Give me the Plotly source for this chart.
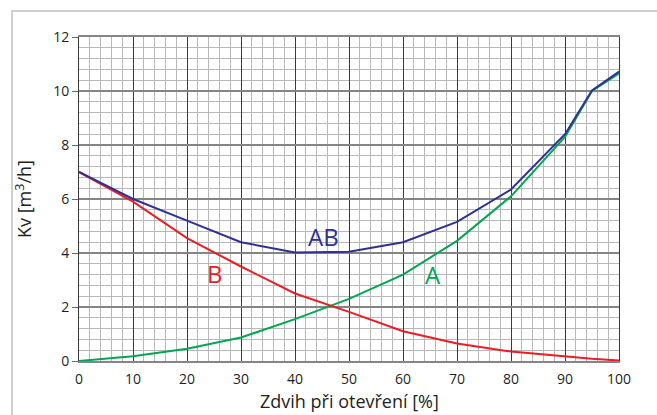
import plotly.graph_objects as go

# Valve stroke (% open) and flow coefficient Kv for each port
stroke = [0, 10, 20, 30, 40, 50, 60, 70, 80, 90, 95, 100]
kv_a = [0.0, 0.18, 0.45, 0.87, 1.55, 2.3, 3.2, 4.45, 6.1, 8.3, 10.0, 10.65]
kv_b = [7.0, 5.9, 4.55, 3.5, 2.5, 1.82, 1.1, 0.65, 0.35, 0.16, 0.08, 0.02]
kv_ab = [7.0, 6.0, 5.2, 4.4, 4.02, 4.05, 4.4, 5.15, 6.35, 8.4, 10.02, 10.72]

series = [
    ("A", kv_a, "#00A651"),
    ("B", kv_b, "#ED1C24"),
    ("AB", kv_ab, "#2E3192"),
]

# Curve labels: (text, x, y)
curve_labels = [("AB", 45.3, 4.6, "#2E3192"), ("B", 25.2, 3.25, "#ED1C24"), ("A", 65.5, 3.19, "#00A651")]

x_title = "Zdvih při otevření [%]"
y_title = "Kv [m<sup>3</sup>/h]"

FONT = "Open Sans"
TEXT = "#231F20"

fig = go.Figure()
for name, vals, color in series:
    fig.add_trace(go.Scatter(x=stroke, y=vals, mode="lines", name=name,
                             line=dict(color=color, width=2), showlegend=False))

for text, x, y, color in curve_labels:
    fig.add_annotation(x=x, y=y, xref="x", yref="y", text=text, showarrow=False,
                       font=dict(family=FONT, size=24, color=color))

# x-axis title placed just under the tick labels
fig.add_annotation(x=0.5, y=-0.122, xref="paper", yref="paper", text=x_title,
                   showarrow=False, xanchor="center", yanchor="middle",
                   font=dict(family=FONT, size=18, color=TEXT))

# light frame around the whole graphic
fig.add_shape(type="rect", xref="paper", yref="paper",
              x0=-0.124, x1=1.2, y0=-0.3, y1=1.08,
              line=dict(color="#cfcfcf", width=2), layer="below")

fig.update_xaxes(
    range=[0, 100], dtick=10, tick0=0,
    showgrid=True, gridcolor="#3a3a3a", gridwidth=1,
    minor=dict(dtick=2, showgrid=True, gridcolor="#b8b8b8", gridwidth=1),
    showline=True, linecolor="#858585", linewidth=1.5, mirror=True,
    zeroline=False, ticks="", ticklabelstandoff=4,
    tickfont=dict(family=FONT, size=14, color=TEXT),
)
fig.update_yaxes(
    range=[0, 12], dtick=2, tick0=0,
    showgrid=True, gridcolor="#858585", gridwidth=1.5,
    minor=dict(dtick=0.4, showgrid=True, gridcolor="#b8b8b8", gridwidth=1),
    showline=True, linecolor="#3a3a3a", linewidth=1, mirror=True,
    zeroline=False, ticks="outside", ticklen=6, tickcolor="#6a6a6a", tickwidth=1,
    tickfont=dict(family=FONT, size=14, color=TEXT),
    title=dict(text=y_title, standoff=16,
               font=dict(family=FONT, size=18, color=TEXT)),
)

fig.update_layout(
    width=657, height=415,
    margin=dict(l=79, r=38, t=37, b=54),
    paper_bgcolor="white", plot_bgcolor="white",
)

fig.write_html("out.html")
